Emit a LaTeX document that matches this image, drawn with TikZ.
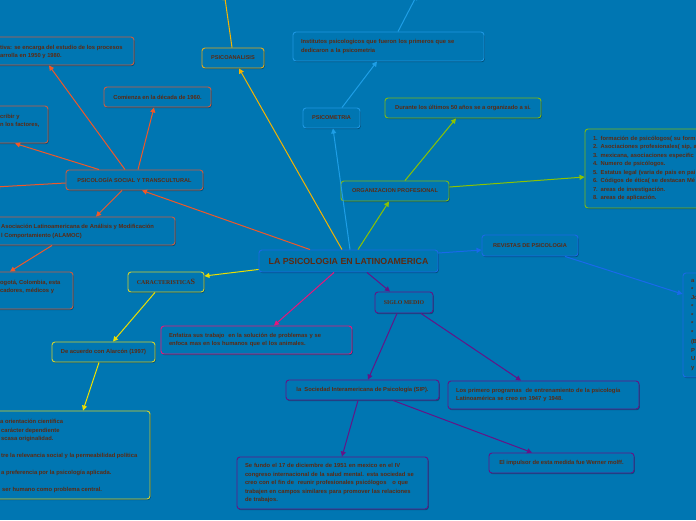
\documentclass[tikz,border=0pt]{standalone}
\usepackage{fontspec}
\setmainfont{Liberation Sans}
\newfontfamily\serifcar{Liberation Serif}
\usetikzlibrary{arrows.meta,shadows}
\definecolor{bgc}{RGB}{0,118,178}
\definecolor{txt}{RGB}{92,42,18}
\definecolor{orE}{RGB}{240,88,40}
\definecolor{orB}{RGB}{205,92,62}
\definecolor{goE}{RGB}{245,180,0}
\definecolor{goB}{RGB}{225,170,25}
\definecolor{lbE}{RGB}{30,158,230}
\definecolor{lbB}{RGB}{30,150,225}
\definecolor{grE}{RGB}{140,195,0}
\definecolor{grB}{RGB}{125,185,20}
\definecolor{dbE}{RGB}{25,105,235}
\definecolor{dbB}{RGB}{28,105,228}
\definecolor{yeE}{RGB}{235,222,0}
\definecolor{yeB}{RGB}{210,210,45}
\definecolor{pkE}{RGB}{232,22,122}
\definecolor{puE}{RGB}{100,20,135}
\begin{document}
\begin{tikzpicture}[x=1pt,y=-1pt,
  nodebox/.style={draw=#1, line width=0.9pt, rounded corners=3pt, fill=bgc, inner sep=0pt, text=txt,
    font=\bfseries\fontsize{5.8}{8.5}\selectfont,
    drop shadow={shadow xshift=0.8pt,shadow yshift=-1.2pt,opacity=0.3,fill=black}},
  lbl/.style={inner sep=0pt, text=txt, font=\bfseries\fontsize{5.8}{8.5}\selectfont, align=left, anchor=west},
  conn/.style={draw=#1, line width=1pt, -{Triangle[length=5pt,width=5pt]}}]
\useasboundingbox (0,0) rectangle (696,520);
\clip (0,0) rectangle (696,520);
\fill[bgc] (0,0) rectangle (696,520);

% orange branch
\node[nodebox=orB, minimum width=200pt, minimum height=28pt] (box1) at (34,51) {};
\node[lbl] (t1) at (0,52) {tiva: se encarga del estudio de los procesos\\arrolla en 1950 y 1980.};
\node[nodebox=orB, minimum width=107pt, minimum height=20pt] (comienza) at (157.5,97) {Comienza en la década de 1960.};
\node[nodebox=orB, minimum width=148pt, minimum height=37pt] (box3) at (-26,124.5) {};
\node[lbl] (t3) at (0,121) {cribir y\\n los factores,};
\node[nodebox=orB, minimum width=137pt, minimum height=20pt, font=\bfseries\fontsize{5.6}{7}\selectfont] (social) at (134.5,180) {PSICOLOGÍA SOCIAL Y TRANSCULTURAL};
\node[nodebox=orB, minimum width=235pt, minimum height=28pt] (alamoc) at (57.5,231) {};
\node[lbl] (talamoc) at (1,231.5) {Asociación Latinoamericana de Análisis y Modificación\\l Comportamiento (ALAMOC)};
\node[nodebox=orB, minimum width=173pt, minimum height=37pt] (bogota) at (-13.5,290.5) {};
\node[lbl] (tbog) at (0,287) {ogotá, Colombia, esta\\cadores, médicos y};
\coordinate (offl) at (-5,187);

% yellow branch
\node[nodebox=yeB, minimum width=76pt, minimum height=20pt] (caract) at (166,282) {{\serifcar\bfseries\fontsize{5.9}{7}\selectfont CARACTERISTICA}{\serifcar\bfseries\fontsize{8}{8}\selectfont S}};
\node[nodebox=yeB, minimum width=103pt, minimum height=20pt] (acuerdo) at (103.5,352) {De acuerdo con Alarcón (1997)};
\node[nodebox=yeB, minimum width=250pt, minimum height=88pt] (bigy) at (25,455) {};
\node[lbl] (tbigy) at (0,456) {a orientación científica\\\hspace{1pt}carácter dependiente\\\hspace{1pt}scasa originalidad.\\[8.5pt]\hspace{1pt}tre la relevancia social y la permeabilidad política\\[8.5pt]\hspace{1pt}a preferencia por la psicología aplicada.\\[8.5pt]\hspace{2pt}ser humano como problema central.};

% pink
\node[nodebox=pkE, minimum width=191pt, minimum height=28pt, text width=175pt, align=left] (enfatiza) at (256.5,340) {\mbox{Enfatiza sus trabajo\ \ en la solución de problemas y se}\\\mbox{enfoca mas en los humanos que el los animales.}};

% gold
\node[nodebox=goB, minimum width=62pt, minimum height=20pt, font=\bfseries\fontsize{5.6}{7}\selectfont] (psicoan) at (233,58) {PSICOANALISIS};
\coordinate (offt1) at (224.5,-5);

% light blue
\node[nodebox=lbB, minimum width=191pt, minimum height=29pt, text width=175pt, align=left] (institutos) at (388.5,46.5) {\mbox{Institutos psicologicos que fueron los primeros que se}\\\mbox{dedicaron a la psicometria}};
\node[nodebox=lbB, minimum width=57pt, minimum height=20pt, font=\bfseries\fontsize{5.6}{7}\selectfont] (psicom) at (331.5,118) {PSICOMETRIA};
\coordinate (offt2) at (417,-5);

% green
\node[nodebox=grB, minimum width=156pt, minimum height=20pt] (durante) at (463,108) {Durante los últimos 50 años se a organizado a si.};
\node[nodebox=grB, minimum width=108pt, minimum height=20pt, font=\bfseries\fontsize{5.6}{7}\selectfont] (org) at (395,191) {ORGANIZACION PROFESIONAL};
\node[nodebox=grB, minimum width=215pt, minimum height=79pt, text width=199pt, align=left] (lista) at (692.5,168.5) {1. formación de psicólogos( su form\\2. Asociaciones profesionales( sip, a\\3. mexicana, asociaciones especific\\4. Numero de psicólogos.\\5. Estatus legal (varia de pais en pai\\6. Códigos de ética( se destacan Mé\\7. areas de investigación.\\8. areas de aplicación.};

% dark blue
\node[nodebox=dbB, minimum width=96pt, minimum height=21pt, font=\bfseries\fontsize{5.6}{7}\selectfont] (revistas) at (530,245.5) {REVISTAS DE PSICOLOGIA};
\node[nodebox=dbB, minimum width=167pt, minimum height=104pt, text width=151pt, align=left, font=\bfseries\fontsize{5.8}{8.7}\selectfont] (rbox) at (766.5,325) {a\\{*}\\Jo\\{*}\\{*}\\{*}\\{*}\\(B\\P\\U\\y};

% root
\node[nodebox=dbB, minimum width=179pt, minimum height=22pt, font=\bfseries\fontsize{8.8}{10}\selectfont] (root) at (348.5,261) {LA PSICOLOGIA EN LATINOAMERICA};

% purple
\node[nodebox=puE, minimum width=58pt, minimum height=21pt, font=\serifcar\bfseries\fontsize{5.8}{7}\selectfont] (siglo) at (404,302.5) {SIGLO MEDIO};
\node[nodebox=puE, minimum width=153pt, minimum height=20pt] (sip) at (362.5,390) {la\ \ Sociedad Interamericana de Psicología (SIP).};
\node[nodebox=puE, minimum width=191pt, minimum height=28pt, text width=175pt, align=left] (primero) at (543.5,395) {\mbox{Los primero programas\ \ de entrenamiento de la psicología}\\\mbox{Latinoamérica se creo en 1947 y 1948.}};
\node[nodebox=puE, minimum width=191pt, minimum height=52pt, text width=175pt, align=left] (fundo) at (332.5,483) {\mbox{Se fundo el 17 de diciembre de 1951 en mexico en el IV}\\\mbox{congreso internacional de la salud mental. esta sociedad se}\\\mbox{creo con el fin de\ \ reunir profesionales psicólogos\ \ \ o que}\\\mbox{trabajen en campos similares para promover las relaciones}\\\mbox{de trabajos.}};
\node[nodebox=puE, minimum width=145pt, minimum height=20pt] (impulsor) at (561.5,463) {El impulsor de esta medida fue Werner molff.};

% connectors
\draw[conn=orE] ([xshift=-9.5pt]social.north) -- ([xshift=15pt]box1.south);
\draw[conn=orE] ([xshift=3.5pt]social.north) -- ([xshift=-3.5pt]comienza.south);
\draw[conn=orE] ([xshift=-35.5pt]social.north) -- ([xshift=41pt]box3.south);
\draw[conn=orE] ([yshift=-3pt]social.west) -- (offl);
\draw[conn=orE] ([xshift=-12.5pt]social.south) -- ([xshift=38.5pt]alamoc.north);
\draw[conn=orE] ([xshift=-5.5pt]alamoc.south) -- ([xshift=23.5pt]bogota.north);
\draw[conn=orE] ([xshift=-38.5pt]root.north) -- ([xshift=7.5pt]social.south);
\draw[conn=goE] ([xshift=-6.5pt]root.north) -- ([xshift=6pt]psicoan.south);
\draw[conn=goE] ([xshift=-1pt]psicoan.north) -- (offt1);
\draw[conn=lbE] ([xshift=1.5pt]root.north) -- ([xshift=1.5pt]psicom.south);
\draw[conn=lbE] ([xshift=10.5pt]psicom.north) -- ([xshift=-11.5pt]institutos.south);
\draw[conn=lbE] ([xshift=9.5pt]institutos.north) -- (offt2);
\draw[conn=grE] ([xshift=9.5pt]root.north) -- ([xshift=-6pt]org.south);
\draw[conn=grE] ([xshift=10pt]org.north) -- ([xshift=-7pt]durante.south);
\draw[conn=grE] ([yshift=4pt]org.east) -- ([yshift=-8.5pt]lista.west);
\draw[conn=dbE] ([yshift=8pt]root.east) -- ([yshift=-4.5pt]revistas.west);
\draw[conn=dbE] ([xshift=35pt]revistas.south) -- ([yshift=31pt]rbox.west);
\draw[conn=yeE] ([yshift=3pt]root.south west) -- ([yshift=6pt]caract.east);
\draw[conn=yeE] ([xshift=-11pt]caract.south) -- ([xshift=9.5pt]acuerdo.north);
\draw[conn=yeE] ([xshift=-4.5pt]acuerdo.south) -- ([xshift=58pt]bigy.north);
\draw[conn=pkE] ([xshift=-14.5pt]root.south) -- ([xshift=17.5pt]enfatiza.north);
\draw[conn=puE] ([xshift=18.5pt]root.south) -- ([xshift=-14pt]siglo.north);
\draw[conn=puE] ([xshift=-7pt]siglo.south) -- ([xshift=5.5pt]sip.north);
\draw[conn=puE] ([xshift=17pt]siglo.south) -- ([xshift=-22.5pt]primero.north);
\draw[conn=puE] ([xshift=-4.5pt]sip.south) -- ([xshift=9.5pt]fundo.north);
\draw[conn=puE] ([xshift=30.5pt]sip.south) -- ([xshift=-29.5pt]impulsor.north);
\end{tikzpicture}
\end{document}
